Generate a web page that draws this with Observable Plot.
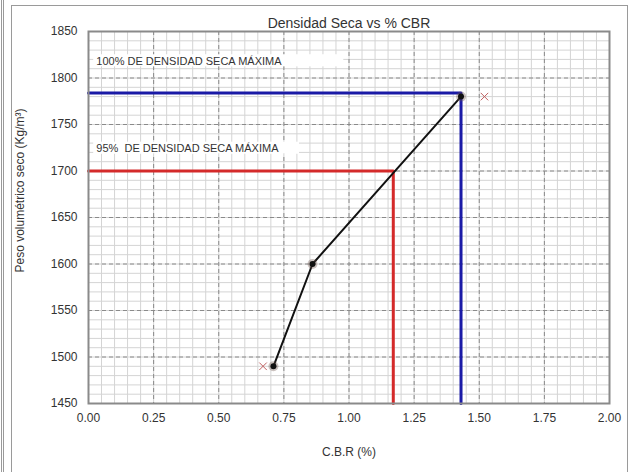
<!DOCTYPE html>
<html><head><meta charset="utf-8">
<script src="https://cdn.jsdelivr.net/npm/d3@7"></script>
<script src="https://cdn.jsdelivr.net/npm/@observablehq/plot@0.6"></script>
<style>
body{margin:0;background:#fff;}
#wrap{position:relative;width:630px;height:472px;overflow:hidden;font-family:"Liberation Sans",Arial,sans-serif;}
.bl{position:absolute;background:#9a9a9a;}
</style></head>
<body><div id="wrap"></div>
<script>
// data
const cbr = [0.71, 0.86, 1.43];
const density = [1490, 1600, 1780];
const crossCbr = [0.67, 1.52];
const crossDensity = [1490, 1780];
const maxDensity = 1784, maxCbr = 1.43;
const d95 = 1700, cbr95 = 1.17;
const xTicks = [0, 0.25, 0.5, 0.75, 1, 1.25, 1.5, 1.75, 2];
const yTicks = [1450, 1500, 1550, 1600, 1650, 1700, 1750, 1800, 1850];
const labels = ["100% DE DENSIDAD SECA MÁXIMA", "95%  DE DENSIDAD SECA MÁXIMA"];
const labelY = [1818, 1724];
const labelBoxEnd = [0.98, 0.81];
const yTitle = "Peso volumétrico seco (Kg/m³)";

const pts = cbr.map((c, i) => ({x: c, y: density[i]}));
const crosses = crossCbr.map((c, i) => ({x: c, y: crossDensity[i]}));
const blueGuide = [{x: 0, y: maxDensity}, {x: maxCbr, y: maxDensity}, {x: maxCbr, y: 1450}];
const redGuide = [{x: 0, y: d95}, {x: cbr95, y: d95}, {x: cbr95, y: 1450}];
const lab = labels.map((t, i) => ({t, y: labelY[i], x2: labelBoxEnd[i]}));

const minorX = d3.range(0, 2.0001, 0.05);
const minorY = d3.range(1450, 1850.001, 10);

const chart = Plot.plot({
  width: 630, height: 472,
  marginLeft: 88, marginRight: 21, marginTop: 31, marginBottom: 69,
  style: {fontFamily: "Liberation Sans, Arial, sans-serif", fontSize: "12px", color: "#333", background: "transparent"},
  x: {domain: [0, 2], ticks: xTicks, tickFormat: d3.format(".2f"), tickSize: 0, tickPadding: 10, label: "C.B.R (%)", labelAnchor: "center", labelOffset: 52, labelArrow: "none"},
  y: {domain: [1450, 1850], ticks: yTicks, tickFormat: d3.format("d"), tickSize: 0, tickPadding: 11, label: null},
  marks: [
    Plot.ruleX(minorX, {stroke: "#d4d4d4", strokeWidth: 1}),
    Plot.ruleY(minorY, {stroke: "#d4d4d4", strokeWidth: 1}),
    Plot.ruleX(xTicks, {stroke: "#8a8a8a", strokeWidth: 1, strokeDasharray: "4,3"}),
    Plot.ruleY(yTicks, {stroke: "#8a8a8a", strokeWidth: 1, strokeDasharray: "4,3"}),
    Plot.rect(lab, {x1: 0.02, x2: "x2", y1: d => d.y - 6, y2: d => d.y + 7, fill: "white"}),
    Plot.text(lab, {x: 0.03, y: "y", text: "t", textAnchor: "start", fontSize: 11, fill: "#333"}),
    Plot.line(redGuide, {x: "x", y: "y", stroke: "#d42a2a", strokeWidth: 3}),
    Plot.line(blueGuide, {x: "x", y: "y", stroke: "#1a1aa6", strokeWidth: 3}),
    Plot.line(pts, {x: "x", y: "y", stroke: "#111", strokeWidth: 2}),
    Plot.dot(pts, {x: "x", y: "y", r: 5, fill: "#6b4f48", fillOpacity: 0.35}),
    Plot.dot(pts, {x: "x", y: "y", r: 3, fill: "#111"}),
    Plot.dot(crosses, {x: "x", y: "y", symbol: "times", r: 3.5, stroke: "#c06060", strokeWidth: 1}),
    Plot.frame({stroke: "#8a8a8a", strokeWidth: 2}),
    Plot.text([yTitle], {frameAnchor: "left", textAnchor: "middle", rotate: -90, dx: -68, dy: -27, fontSize: 12, fill: "#333"}),
    Plot.text(["Densidad Seca vs % CBR"], {frameAnchor: "top", dy: -13, fontSize: 14, fill: "#333"})
  ]
});
const wrap = document.getElementById("wrap");
wrap.appendChild(chart);
chart.style.position = "absolute"; chart.style.left = "0"; chart.style.top = "0";
// outer frame lines
const mk = (l, t, w, h) => { const d = document.createElement("div"); d.className = "bl"; Object.assign(d.style, {left: l+"px", top: t+"px", width: w+"px", height: h+"px"}); wrap.appendChild(d); };
mk(11, 5, 617, 1);
mk(11, 5, 1, 467);
mk(627, 5, 1, 467);
mk(1, 0, 1, 472);
mk(3, 0, 1, 472);
</script></body></html>
